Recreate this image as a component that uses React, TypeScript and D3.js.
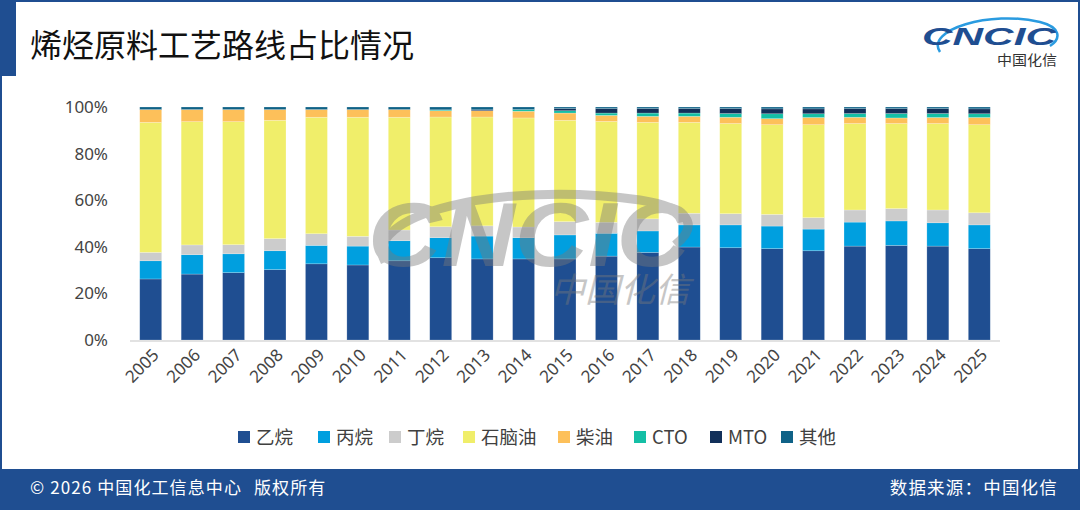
import * as d3 from 'd3';

const years = ['2005','2006','2007','2008','2009','2010','2011','2012','2013','2014','2015','2016','2017','2018','2019','2020','2021','2022','2023','2024','2025'];
const seriesNames = ['乙烷','丙烷','丁烷','石脑油','柴油','CTO','MTO','其他'];
const seriesColors = ['#1f4e91','#009fdf','#cccccc','#f0ee6a','#fdc05a','#14bfa6','#12305a','#0f6287'];

// shares in %, one array per route
const ethane  = [26.2,28.3,28.9,30.2,32.7,32.2,34.0,35.3,34.8,34.8,34.8,36.0,37.6,39.9,39.6,39.2,38.3,40.3,40.6,40.3,39.2];
const propane = [7.8,8.3,8.1,8.1,7.9,8.1,8.6,8.6,9.8,9.1,10.3,9.8,9.2,9.5,9.8,9.7,9.3,10.3,10.5,10.0,10.2];
const butane  = [3.6,4.2,3.9,5.2,5.0,4.2,4.6,4.7,4.4,4.6,5.7,4.7,5.2,5.0,4.8,5.0,4.9,5.2,5.3,5.5,5.2];
const naphtha = [55.8,52.9,52.8,50.8,50.0,51.1,48.4,47.1,46.7,46.8,43.5,43.3,41.4,39.0,38.7,38.5,39.9,37.1,36.5,37.1,37.8];
const diesel  = [5.5,5.2,5.2,4.6,3.3,3.3,3.3,2.7,2.7,2.9,3.1,2.6,2.6,2.6,2.7,2.6,3.1,2.7,2.4,2.6,3.1];
const cto     = [0,0,0,0,0,0,0,0.4,0,0.7,1.0,1.0,1.4,1.4,1.6,2.1,1.6,1.6,1.9,1.7,1.6];
const mto     = [0,0,0,0,0,0,0,0,0.4,0,0.9,1.9,1.9,1.9,2.1,2.1,2.1,2.1,2.1,2.1,2.1];
const other   = [1.1,1.1,1.1,1.1,1.1,1.1,1.1,1.2,1.2,1.1,0.7,0.7,0.7,0.7,0.7,0.8,0.8,0.7,0.7,0.7,0.8];
const yTicks = [0, 20, 40, 60, 80, 100];

const seriesValues = [ethane, propane, butane, naphtha, diesel, cto, mto, other];

const W = 1080, H = 510;
const BLUE = '#1f4e91';
const FONT = '"Noto Sans", "Noto Sans CJK SC", sans-serif';
const CJK = '"Noto Sans CJK SC", "Noto Sans", sans-serif';

export default function App() {
  const rows = years.map((y, i) => {
    const r: any = { year: y };
    seriesNames.forEach((s, k) => { r[s] = seriesValues[k][i]; });
    return r;
  });
  const stacked = d3.stack<any>().keys(seriesNames)(rows);

  const x = d3.scaleBand().domain(years).range([130, 1000]).paddingInner(0.47).paddingOuter(0.235);
  const y = d3.scaleLinear().domain([0, 100]).range([340, 107]);

  // legend entries laid out left to right
  const legendX = [238, 318, 389, 463, 558, 634, 710, 781];

  return (
    <div style={{ position: 'fixed', left: 0, top: 0 }}>
      <svg width={W} height={H} style={{ display: 'block', background: '#fff' }}>
        {/* frame */}
        <rect x={1} y={1} width={W - 2} height={H - 2} fill="none" stroke={BLUE} strokeWidth={2} />
        <rect x={0} y={0} width={16} height={76} fill={BLUE} />
        <rect x={0} y={469} width={W} height={H - 469} fill={BLUE} />

        <text x={30} y={57} fontFamily={CJK} fontSize={32} fill="#111">烯烃原料工艺路线占比情况</text>

        {/* logo */}
        <g>
          <path d="M940,52 C925,30 990,10 1040,22 C1060,27 1062,38 1050,46" fill="none" stroke="#2a9be0" strokeWidth={2.5} />
          <text x={922} y={45} fontFamily="Liberation Sans, Arial, sans-serif" fontWeight="bold" fontStyle="italic"
            fontSize={23} fill={BLUE} textLength={134} lengthAdjust="spacingAndGlyphs">CNCIC</text>
          <text x={997} y={65} fontFamily={CJK} fontSize={14} fill="#333" textLength={60} lengthAdjust="spacingAndGlyphs">中国化信</text>
        </g>

        {/* y axis labels */}
        {yTicks.map(t => (
          <text key={t} x={108} y={y(t)} dy="0.35em" textAnchor="end" fontFamily={FONT} fontSize={17} fill="#444">{t}%</text>
        ))}

        {/* bars */}
        {stacked.map((layer, k) => (
          <g key={layer.key} fill={seriesColors[k]}>
            {layer.map((d, i) => {
              const h = y(d[0]) - y(d[1]);
              if (h <= 0) return null;
              return (
                <rect key={i} x={x(years[i])} y={y(d[1])} width={x.bandwidth()} height={h}
                  stroke="#ffffff" strokeOpacity={0.35} strokeWidth={0.6} />
              );
            })}
          </g>
        ))}

        {/* baseline */}
        <line x1={130} x2={1000} y1={341} y2={341} stroke="#d9d9d9" strokeWidth={1.5} />

        {/* x labels */}
        {years.map(yr => {
          const cx = (x(yr) as number) + x.bandwidth() / 2 + 5;
          return (
            <text key={yr} transform={`translate(${cx},352) rotate(-45)`} textAnchor="end" dy="0.35em"
              fontFamily={FONT} fontSize={17} fill="#444">{yr}</text>
          );
        })}

        {/* watermark */}
        <g opacity={0.42} fill="#7a7a7a">
          <path d="M385,262 C360,215 500,180 640,200 C690,208 700,225 675,245" fill="none" stroke="#7a7a7a" strokeWidth={9} />
          <text x={368} y={266} fontFamily="Liberation Sans, Arial, sans-serif" fontWeight="bold" fontStyle="italic"
            fontSize={90} textLength={322} lengthAdjust="spacingAndGlyphs">CNCIC</text>
          <text x={550} y={302} fontFamily={CJK} fontStyle="italic" fontSize={34} textLength={140} lengthAdjust="spacingAndGlyphs">中国化信</text>
        </g>

        {/* legend */}
        {seriesNames.map((s, k) => (
          <g key={s}>
            <rect x={legendX[k]} y={431} width={12} height={12} fill={seriesColors[k]} />
            <text x={legendX[k] + 18} y={437} dy="0.36em" fontFamily={CJK} fontSize={18.5} fill="#404040">{s}</text>
          </g>
        ))}

        {/* footer */}
        <text x={30} y={488} dy="0.35em" fontFamily={CJK} fontSize={17} letterSpacing={1.1} fill="#fff">
          <tspan>© 2026 中国化工信息中心</tspan>
          <tspan dx={12}>版权所有</tspan>
        </text>
        <text x={1058} y={488} dy="0.35em" textAnchor="end" fontFamily={CJK} fontSize={17.5} letterSpacing={1.2} fill="#fff">数据来源：中国化信</text>
      </svg>
    </div>
  );
}
